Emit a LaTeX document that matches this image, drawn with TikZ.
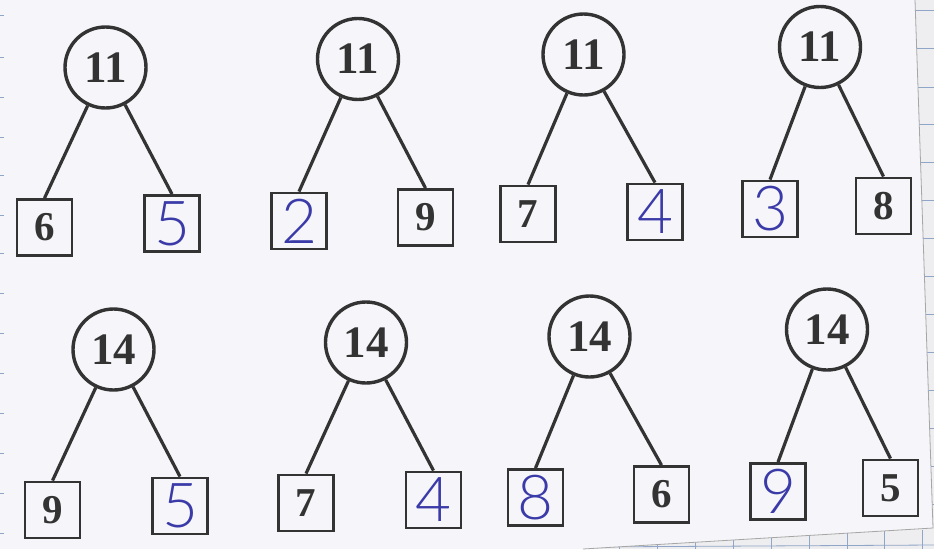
\documentclass[tikz,border=0pt]{standalone}
\usepackage{fontspec}
\setmainfont{Liberation Serif}
\newfontfamily\handfont{Lato Light}
\definecolor{inkgray}{HTML}{333333}
\definecolor{pen}{HTML}{3A3AA8}
\definecolor{paper}{HTML}{F6F5F9}
\definecolor{gridpaper}{HTML}{EEEDEF}
\definecolor{gridline}{HTML}{8FA6C8}
\begin{document}
\begin{tikzpicture}[x=1pt,y=-1pt,
  bond/.style={circle, draw=inkgray, line width=3.4pt, minimum size=81pt, inner sep=0pt,
    font=\fontsize{45}{45}\selectfont\bfseries, text=inkgray},
  part/.style={rectangle, draw=inkgray, line width=2.8pt, minimum width=55pt, minimum height=56pt,
    inner sep=0pt, font=\fontsize{41}{41}\selectfont\bfseries, text=inkgray},
  hand/.style={part, font=\handfont\fontsize{62}{62}\selectfont, text=pen},
  link/.style={draw=inkgray, line width=3.2pt},
  gridln/.style={draw=gridline, line width=0.8pt}
]
\useasboundingbox (0,0) rectangle (934,549);
% background: grid paper and the worksheet on top
\fill[gridpaper] (0,0) rectangle (934,549);
\foreach \yy in {10,48,87,124,162,200,238,276,314,352,390,428,466,504}
  \draw[gridln] (914,\yy) -- (934,\yy);
\foreach \xx in {619,657,695,733,771,809,847,884,922}
  \draw[gridln] (\xx,530) -- (\xx,549);
\draw[gridln] (580,547) -- (934,545);
\fill[paper] (0,0) -- (915,0) -- (933,528) -- (583,549) -- (0,549) -- cycle;
\draw[gray!70, line width=0.8pt] (915,0) -- (933,528) -- (583,549);
\foreach \yy in {15,57,97,137,175,215,253,293,333,373,413,453,493,533}
  \draw[gridln] (0,\yy) -- (4,\yy);

% top row: 11
\node[bond] (c1) at (105.5,67.5) {11};
\node[part] (b1a) at (44.5,227.5) {6};
\node[hand] (b1b) at (172,223.5) {5};
\node[bond] (c2) at (358,59) {11};
\node[hand] (b2a) at (299,221) {2};
\node[part] (b2b) at (425.5,217.5) {9};
\node[bond] (c3) at (583.5,54.5) {11};
\node[part] (b3a) at (528,214) {7};
\node[hand] (b3b) at (655,212) {4};
\node[bond] (c4) at (820,47) {11};
\node[hand] (b4a) at (770,209) {3};
\node[part] (b4b) at (883.5,206) {8};

% bottom row: 14
\node[bond] (c5) at (113.5,349.5) {14};
\node[part] (b5a) at (52.5,510) {9};
\node[hand] (b5b) at (180,506) {5};
\node[bond] (c6) at (366,342.5) {14};
\node[part] (b6a) at (306,503) {7};
\node[hand] (b6b) at (433.5,500) {4};
\node[bond] (c7) at (589.5,336.5) {14};
\node[hand] (b7a) at (535.5,497.5) {8};
\node[part] (b7b) at (661.5,494.5) {6};
\node[bond] (c8) at (827,329.5) {14};
\node[hand] (b8a) at (778,491.5) {9};
\node[part] (b8b) at (890.5,488) {5};

% connectors
\foreach \c/\l/\r in {c1/b1a/b1b, c2/b2a/b2b, c3/b3a/b3b, c4/b4a/b4b,
                      c5/b5a/b5b, c6/b6a/b6b, c7/b7a/b7b, c8/b8a/b8b} {
  \draw[link] (\c) -- (\l.north);
  \draw[link] (\c) -- (\r.north);
}
\end{tikzpicture}
\end{document}
